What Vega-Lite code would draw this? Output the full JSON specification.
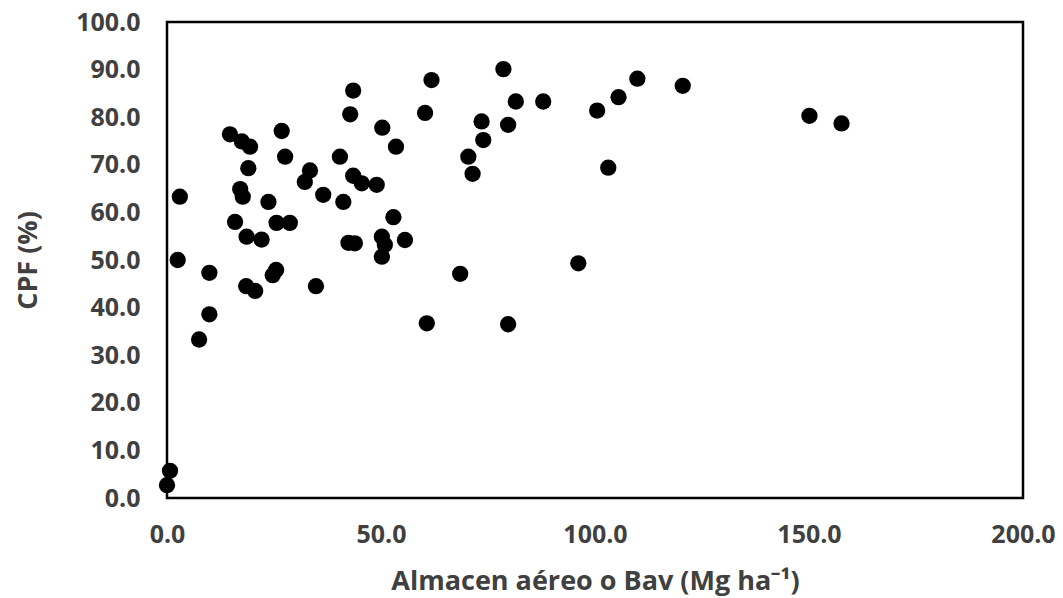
{
  "$schema": "https://vega.github.io/schema/vega-lite/v6.json",
  "autosize": {"type": "none"},
  "width": 856,
  "height": 476,
  "padding": {"left": 167, "top": 22, "right": 40, "bottom": 100},
  "background": "white",
  "config": {
    "view": {"stroke": "black", "strokeWidth": 2.5},
    "axis": {
      "grid": false,
      "domain": false,
      "ticks": false,
      "labelFlush": false,
      "labelFont": "Open Sans",
      "labelFontWeight": "bold",
      "labelFontSize": 25,
      "labelColor": "#404040",
      "titleFont": "Open Sans",
      "titleFontWeight": "bold",
      "titleFontSize": 27,
      "titleColor": "#404040"
    }
  },
  "data": {
    "values": [
      {"bav": 43.5, "cpf": 85.6},
      {"bav": 42.8, "cpf": 80.6},
      {"bav": 14.7, "cpf": 76.4},
      {"bav": 17.5, "cpf": 74.9},
      {"bav": 19.4, "cpf": 73.8},
      {"bav": 26.8, "cpf": 77.1},
      {"bav": 50.3, "cpf": 77.8},
      {"bav": 53.5, "cpf": 73.8},
      {"bav": 27.6, "cpf": 71.7},
      {"bav": 19.0, "cpf": 69.3},
      {"bav": 40.4, "cpf": 71.7},
      {"bav": 33.4, "cpf": 68.8},
      {"bav": 32.2, "cpf": 66.4},
      {"bav": 43.5, "cpf": 67.7},
      {"bav": 45.5, "cpf": 66.1},
      {"bav": 49.0, "cpf": 65.8},
      {"bav": 17.1, "cpf": 64.9},
      {"bav": 17.7, "cpf": 63.3},
      {"bav": 3.0, "cpf": 63.3},
      {"bav": 23.7, "cpf": 62.2},
      {"bav": 36.5, "cpf": 63.7},
      {"bav": 41.2, "cpf": 62.2},
      {"bav": 52.9, "cpf": 59.0},
      {"bav": 15.9, "cpf": 58.0},
      {"bav": 25.6, "cpf": 57.8},
      {"bav": 28.7, "cpf": 57.8},
      {"bav": 18.6, "cpf": 54.9},
      {"bav": 22.1, "cpf": 54.3},
      {"bav": 42.4, "cpf": 53.6},
      {"bav": 43.9, "cpf": 53.5},
      {"bav": 50.2, "cpf": 54.9},
      {"bav": 50.9, "cpf": 53.2},
      {"bav": 50.2, "cpf": 50.7},
      {"bav": 55.6, "cpf": 54.2},
      {"bav": 2.5, "cpf": 50.0},
      {"bav": 9.9, "cpf": 47.3},
      {"bav": 25.5, "cpf": 47.9},
      {"bav": 24.7, "cpf": 46.8},
      {"bav": 18.5, "cpf": 44.5},
      {"bav": 20.6, "cpf": 43.5},
      {"bav": 34.8, "cpf": 44.5},
      {"bav": 9.9, "cpf": 38.6},
      {"bav": 7.5, "cpf": 33.3},
      {"bav": 0.7, "cpf": 5.7},
      {"bav": 0.0, "cpf": 2.7},
      {"bav": 61.8, "cpf": 87.8},
      {"bav": 78.6, "cpf": 90.1},
      {"bav": 109.9, "cpf": 88.1},
      {"bav": 120.5, "cpf": 86.6},
      {"bav": 60.3, "cpf": 80.9},
      {"bav": 81.5, "cpf": 83.3},
      {"bav": 87.9, "cpf": 83.3},
      {"bav": 100.5, "cpf": 81.4},
      {"bav": 105.5, "cpf": 84.2},
      {"bav": 73.5, "cpf": 79.1},
      {"bav": 79.7, "cpf": 78.4},
      {"bav": 73.9, "cpf": 75.2},
      {"bav": 70.4, "cpf": 71.7},
      {"bav": 71.4, "cpf": 68.1},
      {"bav": 103.1, "cpf": 69.4},
      {"bav": 68.5, "cpf": 47.1},
      {"bav": 96.1, "cpf": 49.3},
      {"bav": 60.7, "cpf": 36.7},
      {"bav": 79.7, "cpf": 36.5},
      {"bav": 150.1, "cpf": 80.3},
      {"bav": 157.6, "cpf": 78.7}
    ]
  },
  "mark": {"type": "circle", "color": "black", "opacity": 1, "size": 265},
  "encoding": {
    "x": {
      "field": "bav",
      "type": "quantitative",
      "scale": {"domain": [0, 200], "nice": false, "zero": false},
      "axis": {
        "values": [0, 50, 100, 150, 200],
        "format": ".1f",
        "labelPadding": 24,
        "title": "Almacen aéreo o Bav (Mg ha⁻¹)",
        "titleBaseline": "middle",
        "titleY": 83
      }
    },
    "y": {
      "field": "cpf",
      "type": "quantitative",
      "scale": {"domain": [0, 100], "nice": false, "zero": false},
      "axis": {
        "values": [0, 10, 20, 30, 40, 50, 60, 70, 80, 90, 100],
        "format": ".1f",
        "labelPadding": 27,
        "title": "CPF (%)",
        "titleAngle": 270,
        "titleAlign": "center",
        "titleBaseline": "middle",
        "titleX": -139
      }
    }
  }
}
